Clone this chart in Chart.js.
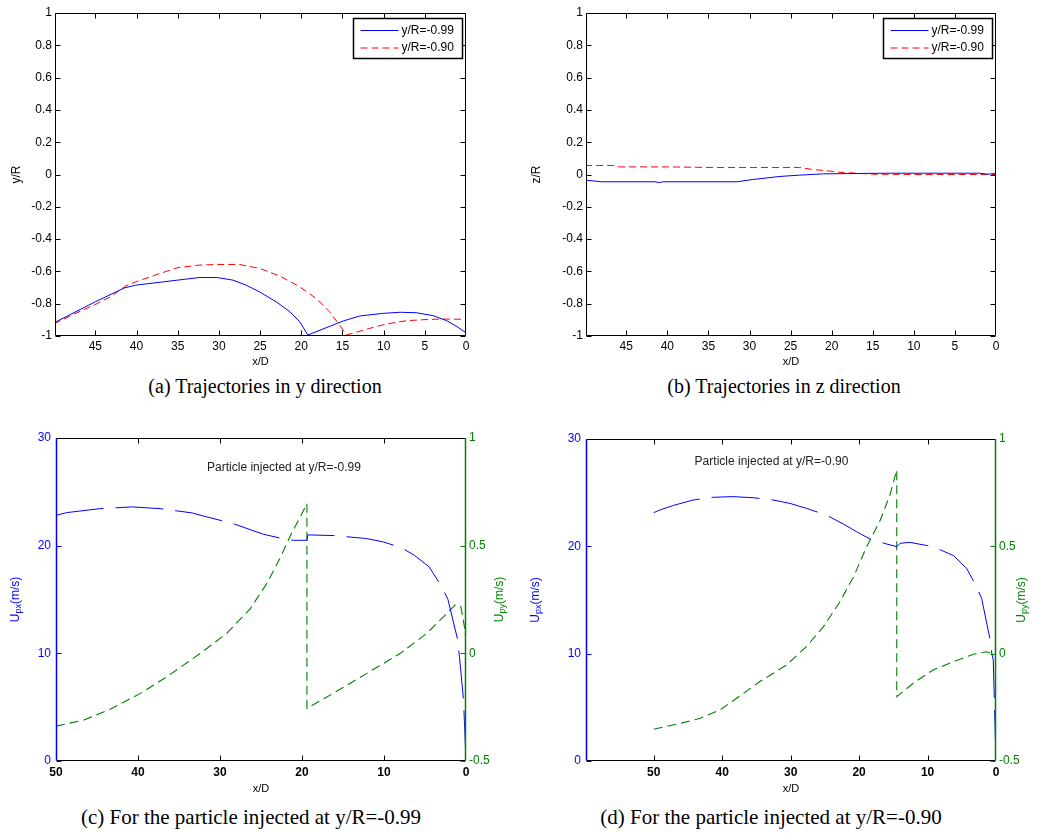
<!DOCTYPE html>
<html>
<head>
<meta charset="utf-8">
<script src="https://cdn.jsdelivr.net/npm/chart.js@4.4.1/dist/chart.umd.min.js"></script>
<style>
  body { margin: 0; background: #fff; width: 1042px; height: 834px; position: relative; overflow: hidden; }
  canvas { position: absolute; }
  .cap { position: absolute; width: 600px; text-align: center; font-family: 'Liberation Serif', 'Times New Roman', serif; color: #000; white-space: nowrap; }
</style>
</head>
<body>
<canvas id="ca" width="520" height="372" style="left:0;top:0"></canvas>
<canvas id="cb" width="522" height="372" style="left:520px;top:0"></canvas>
<canvas id="cc" width="520" height="380" style="left:0;top:420px"></canvas>
<canvas id="cd" width="522" height="380" style="left:520px;top:420px"></canvas>
<div class="cap" style="left:-35px;top:376px;font-size:20px;line-height:20px">(a) Trajectories in y direction</div>
<div class="cap" style="left:484px;top:376px;font-size:20px;line-height:20px">(b) Trajectories in z direction</div>
<div class="cap" style="left:-49px;top:807px;font-size:21px;line-height:21px">(c) For the particle injected at y/R=-0.99</div>
<div class="cap" style="left:471px;top:807px;font-size:21px;line-height:21px">(d) For the particle injected at y/R=-0.90</div>
<script>
// (a) y/R trajectories
const aX99 = [50, 45, 41.5, 40.1, 35, 32.4, 30.2, 28.3, 26.7, 25.1, 23.05, 21.4, 20.2, 19.2, 16.15, 14.9, 12.9, 10.1, 8.0, 6.0, 4.0, 2.35, 1.1, 0];
const aY99 = [-0.918, -0.788, -0.703, -0.685, -0.654, -0.638, -0.638, -0.654, -0.685, -0.726, -0.788, -0.849, -0.911, -0.994, -0.932, -0.907, -0.876, -0.86, -0.853, -0.856, -0.874, -0.905, -0.942, -0.98];
const aX90 = [50, 47.5, 45, 43, 41.3, 40.1, 37.3, 35, 32.4, 30.2, 27.5, 25.1, 22.6, 20.2, 18.2, 16.6, 15.5, 14.5, 13.5, 11.7, 9.7, 7.2, 4.4, 2.5, 0];
const aY90 = [-0.925, -0.862, -0.805, -0.752, -0.69, -0.665, -0.615, -0.577, -0.561, -0.557, -0.557, -0.581, -0.629, -0.695, -0.767, -0.849, -0.922, -0.994, -0.979, -0.953, -0.926, -0.905, -0.897, -0.895, -0.897];

// (b) z/R trajectories
const bX99 = [50, 48, 41.5, 41, 40.5, 31.5, 29.6, 26.3, 23.9, 21, 13.3, 2, 1.1, 0];
const bZ99 = [-0.035, -0.045, -0.045, -0.05, -0.045, -0.045, -0.031, -0.012, -0.004, 0.004, 0.008, 0.008, 0.002, 0.006];
const bX90 = [50, 46.6, 45.8, 40, 33.6, 23.9, 22.3, 20.6, 19, 17, 14.9, 10, 5, 0];
const bZ90 = [0.056, 0.056, 0.047, 0.047, 0.043, 0.043, 0.031, 0.023, 0.014, 0.008, 0.002, 0.0, 0.0, 0.0];

// (c) velocities, particle injected at y/R=-0.99
const cXu = [50, 48.7, 44.6, 40.7, 37.3, 33.4, 31.9, 28.4, 26.1, 24.7, 21.9, 21.0, 19.4, 19.3, 16.2, 12.1, 10.1, 7.9, 6.3, 4.5, 3.0, 2.2, 1.0, 0.8, 0.3, 0];
const cU = [22.82, 23.07, 23.44, 23.6, 23.44, 23.04, 22.73, 22.05, 21.43, 21.06, 20.57, 20.5, 20.5, 21.0, 20.94, 20.66, 20.35, 19.82, 19.11, 18.03, 16.24, 15.0, 11.22, 9.68, 5.66, 0];
const cXv = [50, 46.6, 43.4, 39.7, 36.5, 32.4, 29.2, 26.3, 24.3, 22.7, 21.2, 20.2, 19.4, 19.4, 16.2, 12.1, 8.0, 4.8, 2.35, 1.35, 0.65, 0.33, 0.1, 0];
const cV = [-0.338, -0.31, -0.26, -0.186, -0.109, 0.0, 0.092, 0.208, 0.324, 0.44, 0.564, 0.634, 0.695, -0.256, -0.186, -0.093, 0.0, 0.092, 0.185, 0.224, 0.22, 0.155, 0.1, 0.05];

// (d) velocities, particle injected at y/R=-0.90
const dXu = [50, 49.1, 47.1, 44.2, 41.3, 38.4, 35.5, 32.6, 30.1, 27.7, 24.8, 22.3, 20.4, 18.4, 16.0, 14.5, 14.0, 12.6, 9.2, 6.2, 4.3, 3.1, 2.1, 0.9, 0.6, 0.4, 0];
const dU = [23.14, 23.39, 23.82, 24.32, 24.57, 24.63, 24.53, 24.32, 24.0, 23.54, 22.92, 22.08, 21.37, 20.68, 20.22, 19.97, 20.28, 20.37, 19.97, 19.13, 17.95, 16.55, 15.16, 11.43, 9.97, 9.41, 0];
const dXv = [50, 46.2, 43.2, 40.3, 37.9, 34.5, 30.6, 27.7, 25.2, 22.8, 20.8, 18.9, 16.9, 15.5, 14.5, 14.5, 12.1, 9.2, 6.2, 3.3, 1.4, 0.6, 0];
const dV = [-0.352, -0.325, -0.301, -0.262, -0.208, -0.13, -0.053, 0.033, 0.126, 0.242, 0.359, 0.498, 0.623, 0.739, 0.856, -0.2, -0.138, -0.076, -0.037, -0.003, 0.009, 0.001, 0.0];

// tick values
const xTicksTraj = [45, 40, 35, 30, 25, 20, 15, 10, 5, 0];
const xTicksVel = [50, 40, 30, 20, 10, 0];
const yTicksTraj = [1, 0.8, 0.6, 0.4, 0.2, 0, -0.2, -0.4, -0.6, -0.8, -1];
const uTicks = [30, 20, 10, 0];
const vTicks = [1, 0.5, 0, -0.5];

const legendLabels = ['y/R=-0.99', 'y/R=-0.90'];
const noteC = 'Particle injected at y/R=-0.99';
const noteD = 'Particle injected at y/R=-0.90';

const BLUE = '#0000ff', RED = '#ff0000', GREEN = '#008000';
const FONT = "'Liberation Sans', Arial, sans-serif";
Chart.defaults.font.family = FONT;
Chart.defaults.font.size = 12;
Chart.defaults.color = '#000';

function pairs(xs, ys) {
    return xs.map((x, i) => ({ x: x, y: ys[i] }));
}

function fixTicks(vals) {
    return s => { s.ticks = vals.map(v => ({ value: v })); };
}

function line(ctx, x1, y1, x2, y2) {
    ctx.beginPath();
    ctx.moveTo(x1, y1);
    ctx.lineTo(x2, y2);
    ctx.stroke();
}

// rotated axis title, parts = [[text, isSubscript], ...]
function vTitle(ctx, x, y, parts, color) {
    ctx.save();
    ctx.translate(x, y);
    ctx.rotate(-Math.PI / 2);
    ctx.fillStyle = color;
    ctx.textBaseline = 'middle';
    ctx.textAlign = 'left';
    const fonts = parts.map(p => p[1] ? '9px ' + FONT : '12px ' + FONT);
    let w = 0;
    parts.forEach((p, i) => { ctx.font = fonts[i]; w += ctx.measureText(p[0]).width; });
    let cx = -w / 2;
    parts.forEach((p, i) => {
        ctx.font = fonts[i];
        ctx.fillText(p[0], cx, p[1] ? 3 : 0);
        cx += ctx.measureText(p[0]).width;
    });
    ctx.restore();
}

// matlab style box: inward ticks, coloured sides, titles, legend, note
const matlabFrame = {
    id: 'matlabFrame',
    afterDraw(chart, args, o) {
        const ctx = chart.ctx, a = chart.chartArea;
        const sx = chart.scales.x, sy = chart.scales.y, sy2 = chart.scales.y2;
        const L = Math.round(a.left) + 0.5, R = Math.round(a.right) - 0.5;
        const T = Math.round(a.top) + 0.5, B = Math.round(a.bottom) - 0.5;
        const tl = 5;
        ctx.save();
        ctx.setLineDash([]);
        ctx.lineWidth = 1;
        ctx.strokeStyle = '#000';
        sx.ticks.forEach(t => {
            const p = Math.round(sx.getPixelForValue(t.value)) + 0.5;
            if (p < L + 2 || p > R - 2) return;
            line(ctx, p, B, p, B - tl);
            line(ctx, p, T, p, T + tl);
        });
        ctx.strokeStyle = o.leftColor;
        sy.ticks.forEach(t => {
            const p = Math.round(sy.getPixelForValue(t.value)) + 0.5;
            line(ctx, L, p, L + tl, p);
            if (!sy2) line(ctx, R, p, R - tl, p);
        });
        if (sy2) {
            ctx.strokeStyle = o.rightColor;
            sy2.ticks.forEach(t => {
                const p = Math.round(sy2.getPixelForValue(t.value)) + 0.5;
                line(ctx, R, p, R - tl, p);
            });
        }
        ctx.strokeStyle = '#000';
        line(ctx, L, T, R, T);
        line(ctx, L, B, R, B);
        ctx.lineWidth = o.sideWidth;
        ctx.strokeStyle = o.leftColor;
        line(ctx, L, T, L, B);
        ctx.strokeStyle = o.rightColor;
        line(ctx, R, T, R, B);

        // x title
        ctx.fillStyle = '#000';
        ctx.font = '11px ' + FONT;
        ctx.textAlign = 'center';
        ctx.textBaseline = 'middle';
        ctx.fillText('x/D', (a.left + a.right) / 2, a.bottom + o.xTitleGap);
        const my = (a.top + a.bottom) / 2;
        vTitle(ctx, a.left - o.yTitleGap, my, o.yTitle, o.leftColor);
        if (o.y2Title) vTitle(ctx, a.right + o.y2TitleGap, my, o.y2Title, o.rightColor);

        if (o.note) {
            ctx.fillStyle = '#222';
            ctx.font = '12px ' + FONT;
            ctx.textAlign = 'center';
            ctx.fillText(o.note.text, sx.getPixelForValue(o.note.x), sy.getPixelForValue(o.note.y));
        }

        if (o.legend) {
            const bw = 109, bh = 40;
            const bx = Math.round(a.right - 4.5 - bw) + 0.5, by = Math.round(a.top + 5) + 0.5;
            ctx.fillStyle = '#fff';
            ctx.fillRect(bx, by, bw, bh);
            ctx.lineWidth = 1.5;
            ctx.strokeStyle = '#000';
            ctx.strokeRect(bx, by, bw, bh);
            chart.data.datasets.forEach((ds, i) => {
                const ry = by + 12 + i * 17.5;
                ctx.strokeStyle = ds.borderColor;
                ctx.lineWidth = 1;
                ctx.setLineDash(ds.borderDash || []);
                line(ctx, bx + 7, ry, bx + 45, ry);
                ctx.setLineDash([]);
                ctx.fillStyle = '#000';
                ctx.textAlign = 'left';
                ctx.font = '12px ' + FONT;
                ctx.fillText(ds.label, bx + 48, ry);
            });
        }
        ctx.restore();
    }
};

function fmt(v) {
    return String(+Number(v).toFixed(1));
}

function trajectoryChart(id, yTitle, x99, y99, x90, y90, yWidth, padRight) {
    return new Chart(document.getElementById(id), {
        type: 'line',
        data: {
            datasets: [
                { label: legendLabels[0], data: pairs(x99, y99), borderColor: BLUE, borderWidth: 1, pointRadius: 0, tension: 0 },
                { label: legendLabels[1], data: pairs(x90, y90), borderColor: RED, borderWidth: 1, borderDash: [7, 4], pointRadius: 0, tension: 0 }
            ]
        },
        options: {
            responsive: false,
            animation: false,
            layout: { padding: { left: 0, right: padRight, top: 13, bottom: 0 } },
            plugins: {
                legend: { display: false },
                tooltip: { enabled: false },
                matlabFrame: {
                    leftColor: '#000', rightColor: '#000', sideWidth: 1,
                    xTitleGap: 26, yTitleGap: yWidth - 17, yTitle: [[yTitle, false]], legend: true
                }
            },
            scales: {
                x: {
                    type: 'linear', reverse: true, min: 0, max: 49.9,
                    grid: { display: false, drawTicks: false, tickLength: 0 }, border: { display: false },
                    ticks: { padding: 3, maxRotation: 0, autoSkip: false, callback: fmt },
                    afterBuildTicks: fixTicks(xTicksTraj),
                    afterFit: s => { s.height = 36; }
                },
                y: {
                    min: -1, max: 1,
                    grid: { display: false, drawTicks: false, tickLength: 0 }, border: { display: false },
                    ticks: { padding: 3, autoSkip: false, callback: fmt },
                    afterBuildTicks: fixTicks(yTicksTraj),
                    afterFit: s => { s.width = yWidth; }
                }
            }
        },
        plugins: [matlabFrame]
    });
}

function velocityChart(id, xu, u, xv, v, xMax, note, yWidth, y2Width, padTop) {
    return new Chart(document.getElementById(id), {
        type: 'line',
        data: {
            datasets: [
                { label: 'Upx', data: pairs(xu, u), yAxisID: 'y', borderColor: BLUE, borderWidth: 1, borderDash: [48, 12], pointRadius: 0, tension: 0 },
                { label: 'Upy', data: pairs(xv, v), yAxisID: 'y2', borderColor: GREEN, borderWidth: 1.1, borderDash: [9, 5], pointRadius: 0, tension: 0 }
            ]
        },
        options: {
            responsive: false,
            animation: false,
            layout: { padding: { left: 0, right: 0, top: padTop, bottom: 0 } },
            plugins: {
                legend: { display: false },
                tooltip: { enabled: false },
                matlabFrame: {
                    leftColor: BLUE, rightColor: GREEN, sideWidth: 1.5,
                    xTitleGap: 28, yTitleGap: yWidth - 16, y2TitleGap: y2Width - 20,
                    yTitle: [['U', false], ['px', true], ['(m/s)', false]],
                    y2Title: [['U', false], ['py', true], ['(m/s)', false]],
                    note: note
                }
            },
            scales: {
                x: {
                    type: 'linear', reverse: true, min: 0, max: xMax,
                    grid: { display: false, drawTicks: false, tickLength: 0 }, border: { display: false },
                    ticks: { padding: 4, maxRotation: 0, autoSkip: false, font: { weight: 'bold' }, callback: fmt },
                    afterBuildTicks: fixTicks(xTicksVel),
                    afterFit: s => { s.height = 39; }
                },
                y: {
                    position: 'left', min: 0, max: 30,
                    grid: { display: false, drawTicks: false, tickLength: 0 }, border: { display: false },
                    ticks: { padding: 5, color: BLUE, autoSkip: false, callback: fmt },
                    afterBuildTicks: fixTicks(uTicks),
                    afterFit: s => { s.width = yWidth; }
                },
                y2: {
                    position: 'right', min: -0.5, max: 1,
                    grid: { display: false, drawTicks: false, tickLength: 0 }, border: { display: false },
                    ticks: { padding: 3, color: GREEN, autoSkip: false, callback: fmt },
                    afterBuildTicks: fixTicks(vTicks),
                    afterFit: s => { s.width = y2Width; }
                }
            }
        },
        plugins: [matlabFrame]
    });
}

window.onload = () => {
    trajectoryChart('ca', 'y/R', aX99, aY99, aX90, aY90, 55, 54);
    trajectoryChart('cb', 'z/R', bX99, bZ99, bX90, bZ90, 66, 46);
    velocityChart('cc', cXu, cU, cXv, cV, 50, { text: noteC, x: 22.2, y: 27.25 }, 56, 54, 18);
    velocityChart('cd', dXu, dU, dXv, dV, 59.9, { text: noteD, x: 32.8, y: 27.9 }, 66, 46, 19);
};
</script>
</body>
</html>
